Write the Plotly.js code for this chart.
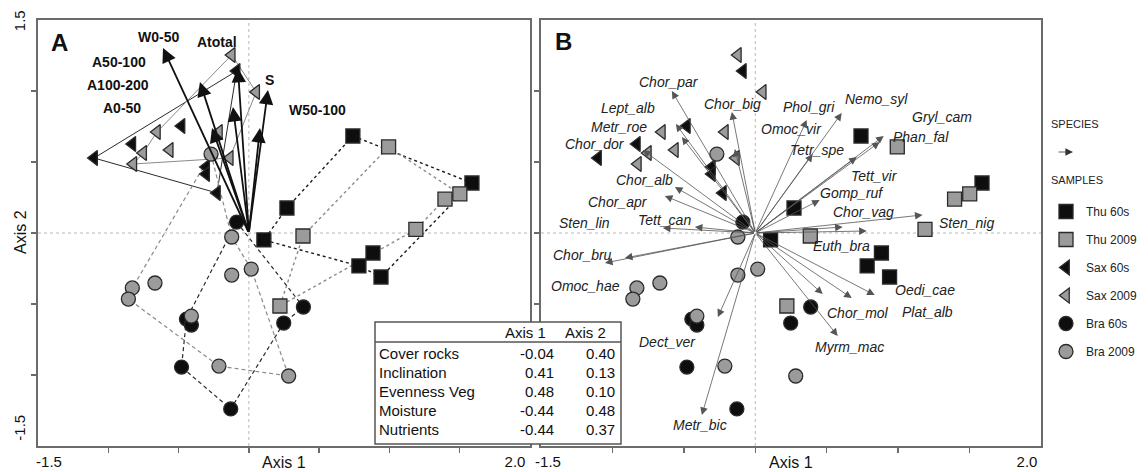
<!DOCTYPE html>
<html><head><meta charset="utf-8">
<script src="https://cdn.plot.ly/plotly-3.0.0.min.js"></script>
<style>html,body{margin:0;padding:0;background:#fff}#chart{width:1148px;height:472px}</style>
</head><body><div id="chart"></div>
<script>
// ---------------- DATA ----------------
// Sample scores (Axis 1, Axis 2)
const thu60X = [0.740, 0.271, 0.107, 0.883, 0.783, 0.940, 1.587];
const thu60Y = [0.683, 0.176, -0.049, -0.141, -0.232, -0.310, 0.352];
const thu60Hull = [0, 6, 5, 4, 2, 1, 0];

const thu09X = [0.994, 1.501, 1.395, 0.385, 1.188, 0.221];
const thu09Y = [0.606, 0.275, 0.239, -0.021, 0.025, -0.514];
const thu09Hull = [0, 1, 2, 4, 5, 3, 0];

const sax60X = [-0.087, -0.479, -0.829, -1.101, -0.304, -0.304, -0.227];
const sax60Y = [1.141, 0.754, 0.627, 0.528, 0.465, 0.415, 0.282];
const sax60Hull = [0, 6, 3, 0];

const sax09X = [-0.122, 0.052, -0.213, -0.654, -0.563, -0.752, -0.822, -0.136];
const sax09Y = [1.254, 0.993, 0.711, 0.711, 0.585, 0.563, 0.486, 0.528];
const sax09Hull = [0, 1, 7, 6, 5, 3, 0];

const bra60X = [-0.087, -0.444, -0.409, -0.479, -0.129, 0.388, 0.248];
const bra60Y = [0.077, -0.606, -0.648, -0.944, -1.239, -0.521, -0.634];
const bra60Hull = [0, 5, 6, 4, 3, 1, 0];

const bra09X = [-0.122, 0.017, -0.122, -0.668, -0.829, -0.857, -0.409, -0.213, 0.283, -0.269];
const bra09Y = [-0.028, -0.254, -0.296, -0.352, -0.387, -0.465, -0.585, -0.937, -1.007, 0.556];
const bra09Hull = [9, 0, 1, 8, 7, 5, 4, 9];

// Environmental variables (panel A)
const envNames = ['W0-50', 'Atotal', 'A50-100', 'A100-200', 'A0-50', 'S', 'W50-100'];
const envX = [-0.611, -0.078, -0.348, -0.262, -0.113, 0.136, 0.079];
const envY = [1.303, 1.162, 1.063, 0.739, 0.887, 1.007, 0.739];

// Species (panel B)
const species = ['Chor_par','Chor_big','Lept_alb','Metr_roe','Chor_dor','Chor_alb','Chor_apr','Sten_lin','Tett_can',
  'Omoc_vir','Phol_gri','Nemo_syl','Gryl_cam','Phan_fal','Tetr_spe','Tett_vir','Gomp_ruf','Chor_vag','Sten_nig',
  'Euth_bra','Oedi_cae','Plat_alb','Chor_mol','Myrm_mac','Dect_ver','Metr_bic','Chor_bru','Omoc_hae'];
const spX = [-0.584,-0.164,-0.556,-0.514,-0.787,-0.563,-0.633,-0.647,-0.423,
  -0.143,0.360,0.605,0.899,0.871,0.402,0.710,0.451,0.780,1.171,
  0.612,0.836,0.675,0.472,0.577,-0.262,-0.374,-1.052,-0.913];
const spY = [1.000,0.852,0.768,0.676,0.585,0.324,0.261,0.035,0.042,
  0.592,0.796,0.845,0.683,0.641,0.556,0.535,0.232,0.014,0.127,
  0.042,-0.437,-0.458,-0.430,-0.725,-0.592,-1.282,-0.211,-0.176];

// Correlation table
const tableVars = ['Cover rocks', 'Inclination', 'Evenness Veg', 'Moisture', 'Nutrients'];
const tableAxis1 = [-0.04, 0.41, 0.48, -0.44, -0.44];
const tableAxis2 = [0.40, 0.13, 0.10, 0.48, 0.37];
const tableHeaders = ['Axis 1', 'Axis 2'];

// ---------------- STYLE / LAYOUT ----------------
const W = 1148, H = 472;
const PX = p => p / W, PY = p => 1 - p / H;
const FONT = 'Liberation Sans, Arial, sans-serif';
const BLACK = '#0e0e0e', GRAY = '#9b9b9b', EDGE = '#2a2a2a', AXC = '#6b6b6b';

// label offsets in pixels [xshift, yshift] (style only)
const envLabelShift = [[-4,11],[-21,26],[-81,20],[-94,43],[-111,-1],[2,10],[58,18]];
const spLabelShift = [[-3,9],[1,8],[-48,16],[-63,10],[-48,6],[-30,7],[-47,-6],[-78,5],[-30,7],
  [57,20],[2,13],[35,14],[58,19],[41,5],[4,4],[18,-19],[32,7],[-3,19],[44,-8],
  [-1,-19],[50,5],[76,-14],[35,-19],[12,-11],[-50,-25],[-2,-10],[-23,8],[-39,-28]];

const groups = [
  {name:'Thu 60s', x:thu60X, y:thu60Y, hull:thu60Hull, symbol:'square', fill:BLACK, size:14, line:{color:'#1a1a1a', dash:'dot', width:1.4}},
  {name:'Thu 2009', x:thu09X, y:thu09Y, hull:thu09Hull, symbol:'square', fill:GRAY, size:14, line:{color:'#8a8a8a', dash:'dot', width:1.4}},
  {name:'Sax 60s', x:sax60X, y:sax60Y, hull:sax60Hull, symbol:'triangle-left', fill:BLACK, size:13, line:{color:'#2a2a2a', width:1}},
  {name:'Sax 2009', x:sax09X, y:sax09Y, hull:sax09Hull, symbol:'triangle-left', fill:GRAY, size:13, line:{color:'#8a8a8a', width:1}},
  {name:'Bra 60s', x:bra60X, y:bra60Y, hull:bra60Hull, symbol:'circle', fill:BLACK, size:14, line:{color:'#2a2a2a', dash:'4px,3px', width:1.2}},
  {name:'Bra 2009', x:bra09X, y:bra09Y, hull:bra09Hull, symbol:'circle', fill:GRAY, size:14, line:{color:'#8a8a8a', dash:'4px,3px', width:1.2}}
];

const traces = [];
groups.forEach(g => {
  traces.push({type:'scatter', mode:'lines', xaxis:'x', yaxis:'y',
    x:g.hull.map(i => g.x[i]), y:g.hull.map(i => g.y[i]),
    line:g.line, showlegend:false, hoverinfo:'skip'});
});
groups.forEach((g, k) => {
  const mk = {symbol:g.symbol, size:g.size, color:g.fill, line:{color:EDGE, width:1.3}};
  traces.push({type:'scatter', mode:'markers', xaxis:'x', yaxis:'y', x:g.x, y:g.y,
    name:g.name, legendgroup:'g'+k, marker:mk, showlegend:true});
  traces.push({type:'scatter', mode:'markers', xaxis:'x2', yaxis:'y2', x:g.x, y:g.y,
    name:g.name, legendgroup:'g'+k, marker:mk, showlegend:false});
});

const annotations = [];
function paperText(px, py, text, size, opts) {
  return Object.assign({xref:'paper', yref:'paper', x:PX(px), y:PY(py), xanchor:'center', yanchor:'middle',
    text:text, showarrow:false, font:{family:FONT, size:size, color:'#111'}}, opts || {});
}
// env arrows (panel A)
envNames.forEach((n, i) => {
  annotations.push({xref:'x', yref:'y', axref:'x', ayref:'y', x:envX[i], y:envY[i], ax:0, ay:0,
    text:'', showarrow:true, arrowhead:2, arrowsize:1.6, arrowwidth:1.8, arrowcolor:'#111', standoff:0});
  annotations.push({xref:'x', yref:'y', x:envX[i], y:envY[i], xshift:envLabelShift[i][0], yshift:envLabelShift[i][1],
    xanchor:'center', yanchor:'middle', text:'<b>'+n+'</b>', showarrow:false, font:{family:FONT, size:14, color:'#111'}});
});
// species arrows (panel B)
species.forEach((n, i) => {
  annotations.push({xref:'x2', yref:'y2', axref:'x2', ayref:'y2', x:spX[i], y:spY[i], ax:0, ay:0,
    text:'', showarrow:true, arrowhead:2, arrowsize:1.9, arrowwidth:0.8, arrowcolor:'#555', standoff:0});
  annotations.push({xref:'x2', yref:'y2', x:spX[i], y:spY[i], xshift:spLabelShift[i][0], yshift:spLabelShift[i][1],
    xanchor:'center', yanchor:'middle', text:'<i>'+n+'</i>', showarrow:false, font:{family:FONT, size:14, color:'#222'}});
});
// panel letters
annotations.push(paperText(59, 43, '<b>A</b>', 24));
annotations.push(paperText(563, 42, '<b>B</b>', 24));
// axis titles
annotations.push(paperText(284, 462, 'Axis 1', 16));
annotations.push(paperText(791, 462, 'Axis 1', 16));
annotations.push(paperText(20, 232, 'Axis 2', 16, {textangle:-90}));
// legend extras
annotations.push(paperText(1049, 124, 'SPECIES', 11, {xanchor:'left', font:{family:FONT, size:11, color:'#222'}}));
annotations.push({xref:'paper', yref:'paper', x:PX(1073), y:PY(152), ax:-16, ay:0, text:'', showarrow:true,
  arrowhead:2, arrowsize:1.9, arrowwidth:0.8, arrowcolor:'#333'});
annotations.push(paperText(1049, 180, 'SAMPLES', 11, {xanchor:'left', font:{family:FONT, size:11, color:'#222'}}));
// table
const tL = 375, tR = 621, tT = 322, tHead = 342, tB = 444;
const headerX = [525, 585];
tableHeaders.forEach((h, j) => annotations.push(paperText(headerX[j], 332, h, 15)));
tableVars.forEach((v, i) => {
  const yy = 353 + i * 19.2;
  annotations.push(paperText(377, yy, v, 15, {xanchor:'left'}));
  annotations.push(paperText(556, yy, tableAxis1[i].toFixed(2), 15, {xanchor:'right'}));
  annotations.push(paperText(617, yy, tableAxis2[i].toFixed(2), 15, {xanchor:'right'}));
});

const zl = {color:'#b8b8b8', width:1, dash:'dot'};
const shapes = [
  {type:'line', xref:'x', yref:'y domain', x0:0, x1:0, y0:0, y1:1, line:zl, layer:'below'},
  {type:'line', xref:'x domain', yref:'y', x0:0, x1:1, y0:0, y1:0, line:zl, layer:'below'},
  {type:'line', xref:'x2', yref:'y2 domain', x0:0, x1:0, y0:0, y1:1, line:zl, layer:'below'},
  {type:'line', xref:'x2 domain', yref:'y2', x0:0, x1:1, y0:0, y1:0, line:zl, layer:'below'},
  {type:'rect', xref:'paper', yref:'paper', x0:PX(tL), x1:PX(tR), y0:PY(tB), y1:PY(tT), fillcolor:'#fff', line:{color:'#555', width:1.5}, layer:'above'},
  {type:'line', xref:'paper', yref:'paper', x0:PX(tL), x1:PX(tR), y0:PY(tHead), y1:PY(tHead), line:{color:'#555', width:1.5}, layer:'above'}
];

function xAxis(domain, labelVals, anchor) {
  return {domain:domain, range:[-1.5, 2.0], anchor:anchor, showline:true, mirror:true, linecolor:AXC, linewidth:1.8,
    showgrid:false, zeroline:false, tickmode:'array', tickvals:labelVals, ticktext:['-1.5','2.0'], ticks:'',
    tickfont:{family:FONT, size:15, color:'#111'}, ticklabelstandoff:1,
    minor:{tickmode:'array', tickvals:[-1,-0.5,0,0.5,1,1.5], ticks:'outside', ticklen:5, tickwidth:1.3, tickcolor:AXC, showgrid:false}};
}
function yAxis(anchor, showLabels) {
  return {domain:[PY(446), PY(20)], range:[-1.5, 1.5], anchor:anchor, showline:true, mirror:true, linecolor:AXC, linewidth:1.8,
    showgrid:false, zeroline:false, tickmode:'array', tickvals:[1.479, -1.387], ticktext:['1.5','-1.5'], ticks:'', tickangle:-90,
    showticklabels:showLabels, tickfont:{family:FONT, size:15, color:'#111'}, ticklabelstandoff:5,
    minor:{tickmode:'array', tickvals:[-1,-0.5,0,0.5,1], ticks:'outside', ticklen:5, tickwidth:1.3, tickcolor:AXC, showgrid:false}};
}

const layout = {
  width:W, height:H, margin:{l:0, r:0, t:0, b:0, autoexpand:false},
  paper_bgcolor:'#fff', plot_bgcolor:'#fff', font:{family:FONT, color:'#111'},
  xaxis:xAxis([PX(38), PX(530)], [-1.422, 1.893], 'y'),
  yaxis:yAxis('x', true),
  xaxis2:xAxis([PX(541), PX(1041)], [-1.451, 1.902], 'y2'),
  yaxis2:yAxis('x2', false),
  showlegend:true,
  legend:{x:PX(1046), xanchor:'left', y:PY(197), yanchor:'top', traceorder:'grouped', tracegroupgap:9,
    bgcolor:'rgba(0,0,0,0)', font:{family:FONT, size:12, color:'#222'}, itemwidth:30},
  annotations:annotations, shapes:shapes
};

Plotly.newPlot('chart', traces, layout, {displayModeBar:false, staticPlot:true});
</script></body></html>
